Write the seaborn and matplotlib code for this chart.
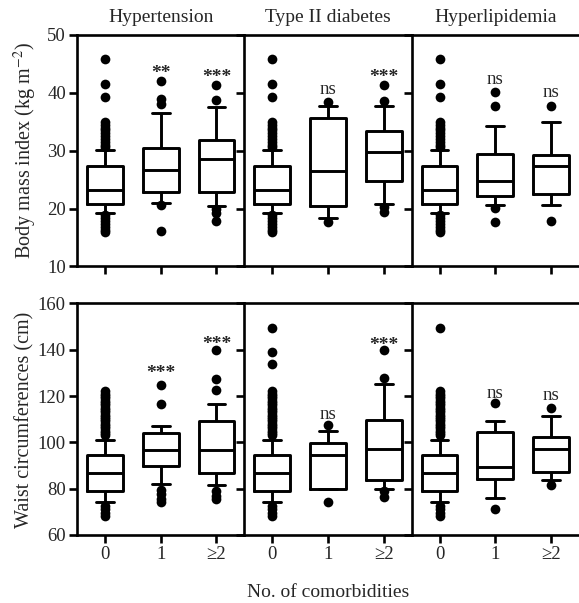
import matplotlib
matplotlib.use('Agg')
import matplotlib.pyplot as plt
import seaborn as sns
import pandas as pd

groups = ['0', '1', '≥2']
diseases = ['Hypertension', 'Type II diabetes', 'Hyperlipidemia']

# box stats per group: [lower whisker, q1, median, q3, upper whisker]
bmi_ctrl_box = [19.2, 20.8, 23.2, 27.3, 30.1]
bmi_ctrl_out = [45.9, 41.6, 39.3, 35.0, 34.5, 34.0, 33.5, 33.0, 32.5, 32.0,
                31.5, 31.0, 30.6, 18.8, 18.3, 17.8, 17.3, 16.8, 16.3, 16.0]

bmi_hyp_box = [bmi_ctrl_box, [20.9, 22.9, 26.6, 30.5, 36.5], [20.5, 22.9, 28.5, 31.9, 37.5]]
bmi_hyp_out = [bmi_ctrl_out, [42.0, 39.0, 38.0, 20.6, 16.2], [41.3, 38.8, 20.0, 19.2, 17.9]]
bmi_hyp_sig = ['', '**', '***']
bmi_hyp_sig_y = [None, 43.4, 42.6]

bmi_t2d_box = [bmi_ctrl_box, [18.3, 20.4, 26.5, 35.7, 37.8], [20.8, 24.7, 29.8, 33.4, 37.8]]
bmi_t2d_out = [bmi_ctrl_out, [38.4, 17.6], [41.3, 38.6, 20.3, 19.4]]
bmi_t2d_sig = ['', 'ns', '***']
bmi_t2d_sig_y = [None, 40.5, 42.6]

bmi_hld_box = [bmi_ctrl_box, [20.6, 22.1, 24.7, 29.4, 34.3], [20.6, 22.5, 27.3, 29.3, 34.9]]
bmi_hld_out = [bmi_ctrl_out, [40.1, 37.7, 20.1, 17.7], [37.8, 17.9]]
bmi_hld_sig = ['', 'ns', 'ns']
bmi_hld_sig_y = [None, 42.3, 40.0]

waist_ctrl_box = [74.4, 78.9, 86.8, 94.6, 101.2]
waist_col = [103, 104, 105, 106, 107, 108, 109, 110, 111, 112, 113, 114,
             115, 116, 117, 118, 119, 120, 121, 122, 72.5, 71, 69.5, 68.3]

waist_hyp_box = [waist_ctrl_box, [81.9, 89.6, 96.5, 104.0, 106.9], [81.6, 86.7, 96.5, 109.0, 116.7]]
waist_hyp_out = [waist_col, [124.9, 116.7, 79.5, 77.5, 75.5, 74.0], [139.8, 127.3, 122.8, 79.0, 77.0, 75.5]]
waist_hyp_sig = ['', '***', '***']
waist_hyp_sig_y = [None, 129.8, 142.2]

waist_t2d_box = [waist_ctrl_box, [80.0, 80.0, 94.4, 99.5, 105.0], [79.9, 83.9, 97.2, 109.6, 125.2]]
waist_t2d_out = [[149.5, 139.0, 134.0] + waist_col, [107.3, 74.0], [139.7, 127.7, 79.0, 76.5]]
waist_t2d_sig = ['', 'ns', '***']
waist_t2d_sig_y = [None, 112.2, 141.9]

waist_hld_box = [waist_ctrl_box, [76.0, 84.2, 89.4, 104.4, 109.2], [83.6, 87.1, 97.0, 102.5, 111.2]]
waist_hld_out = [[149.5] + waist_col, [117.0, 71.2], [115.0, 81.7]]
waist_hld_sig = ['', 'ns', 'ns']
waist_hld_sig_y = [None, 121.2, 120.2]

rows = [
    [(bmi_hyp_box, bmi_hyp_out, bmi_hyp_sig, bmi_hyp_sig_y),
     (bmi_t2d_box, bmi_t2d_out, bmi_t2d_sig, bmi_t2d_sig_y),
     (bmi_hld_box, bmi_hld_out, bmi_hld_sig, bmi_hld_sig_y)],
    [(waist_hyp_box, waist_hyp_out, waist_hyp_sig, waist_hyp_sig_y),
     (waist_t2d_box, waist_t2d_out, waist_t2d_sig, waist_t2d_sig_y),
     (waist_hld_box, waist_hld_out, waist_hld_sig, waist_hld_sig_y)],
]
ylims = [(10, 50), (60, 160)]
yticks = [[10, 20, 30, 40, 50], [60, 80, 100, 120, 140, 160]]
ylabels = [r'Body mass index (kg m$^{-2}$)', 'Waist circumferences (cm)']

sns.set_style('white')
plt.rcParams['font.family'] = ['Liberation Serif', 'DejaVu Serif']
plt.rcParams['mathtext.fontset'] = 'stix'
plt.rcParams['font.size'] = 13

fig, axes = plt.subplots(2, 3, figsize=(5.79, 6.03), dpi=100)
fig.subplots_adjust(left=0.133, right=1.0, top=0.942, bottom=0.113, wspace=0, hspace=0.16)

for r in range(2):
    for c in range(3):
        ax = axes[r, c]
        box, out, sig, sig_y = rows[r][c]

        # five-number summaries -> boxes (quartiles of 5 points are exact)
        box_df = pd.DataFrame({
            'group': [g for g, s in zip(groups, box) for _ in s],
            'value': [v for s in box for v in s],
        })
        out_df = pd.DataFrame({
            'group': [g for g, o in zip(groups, out) for _ in o],
            'value': [v for o in out for v in o],
        })

        sns.boxplot(data=box_df, x='group', y='value', order=groups, whis=(0, 100),
                    showfliers=False, fill=False, color='black', width=0.64,
                    linewidth=2.1, ax=ax)
        sns.stripplot(data=out_df, x='group', y='value', order=groups, jitter=False,
                      color='black', size=7, ax=ax)

        for i, (s, y) in enumerate(zip(sig, sig_y)):
            if s == 'ns':
                ax.text(i, y, s, ha='center', va='center', fontsize=13.5)
            elif s:
                ax.text(i, y, s, ha='center', va='center', fontsize=14, fontweight='bold')

        ax.set_xlim(-0.5, 2.5)
        ax.set_ylim(*ylims[r])
        ax.set_yticks(yticks[r])
        ax.set_xlabel('')
        ax.set_ylabel('')

        for side in ['left', 'top', 'bottom']:
            ax.spines[side].set_visible(True)
            ax.spines[side].set_linewidth(1.9)
            ax.spines[side].set_color('black')
        ax.spines['right'].set_visible(False)

        ax.tick_params(axis='both', direction='out', length=6, width=1.9,
                       color='black', labelsize=13.5, left=True, bottom=True, pad=2)
        if c > 0:
            ax.tick_params(axis='y', labelleft=False)
        if r == 0:
            ax.tick_params(axis='x', labelbottom=False)
            ax.text(0.5, 1.075, diseases[c], transform=ax.transAxes,
                    ha='center', va='center', fontsize=14)

fig.text(25 / 579, 0.75, ylabels[0], rotation=90, ha='center', va='center', fontsize=14.5)
fig.text(25 / 579, 0.304, ylabels[1], rotation=90, ha='center', va='center', fontsize=14.5)
fig.text(0.567, 0.018, 'No. of comorbidities', ha='center', va='center', fontsize=14)

fig.savefig('out.png', dpi=100)
